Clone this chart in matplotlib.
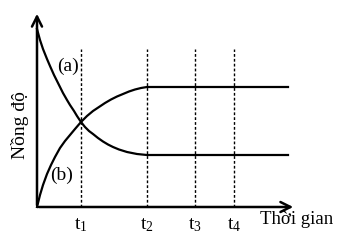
import matplotlib.pyplot as plt

plt.rcParams['font.family'] = ['Liberation Serif', 'DejaVu Serif']
plt.rcParams['mathtext.fontset'] = 'custom'
plt.rcParams['mathtext.rm'] = 'Liberation Serif'
plt.rcParams['mathtext.it'] = 'Liberation Serif'

# curve (a): reactant, curve (b): product (arbitrary units)
a_time = [0, 3, 6, 10, 13, 17, 20, 23, 26, 30, 33, 37, 40, 44, 48, 52, 56,
          61, 66, 71, 76, 82, 90, 100, 110, 251]
a_conc = [178, 167, 158, 148, 141, 132, 126, 120, 114, 107, 102, 96, 91, 85,
          80, 76, 73, 69, 65.5, 62.5, 60, 57.5, 55, 53, 52, 52]
b_time = [0, 3, 6, 10, 14, 18, 23, 28, 33, 38, 44, 50, 56, 62, 68, 74, 80,
          86, 92, 98, 104, 110, 251]
b_conc = [0, 12, 22, 33, 42, 50, 59, 66, 72, 78, 85, 91, 96, 100, 104, 107.5,
          110.5, 113, 115.5, 117.5, 119, 120, 120]

tick_pos = [44, 110, 158, 197]
tick_labels = ['t$_1$', 't$_2$', 't$_3$', 't$_4$']
dash_top = 158

fig = plt.figure(figsize=(3.43, 2.53), dpi=100)
ax = fig.add_axes([0, 0, 1, 1])
ax.set_xlim(-37, 306)
ax.set_ylim(-45, 208)
ax.axis('off')

ax.plot(a_time, a_conc, color='black', lw=1.6)
ax.plot(b_time, b_conc, color='black', lw=1.6)

for x in tick_pos:
    ax.plot([x, x], [0, dash_top], color='black', lw=1, linestyle=(0, (2, 1.5)))
for x, lab in zip(tick_pos, tick_labels):
    ax.text(x, -17, lab, ha='center', va='center', fontsize=14)

# axes with arrows
ax.annotate('', xy=(259, 0), xytext=(-1, 0),
            arrowprops=dict(arrowstyle='->', lw=1.8, color='black', mutation_scale=18))
ax.annotate('', xy=(0, 196), xytext=(0, -1),
            arrowprops=dict(arrowstyle='->', lw=1.8, color='black', mutation_scale=18))

ax.text(223, -12, 'Thời gian', ha='left', va='center', fontsize=13.5)
ax.text(-17, 83, 'Nồng độ', rotation=90, ha='center', va='center', fontsize=14)
ax.text(31, 142, '(a)', ha='center', va='center', fontsize=14)
ax.text(25, 33, '(b)', ha='center', va='center', fontsize=14)

fig.savefig('out.png', dpi=100)
